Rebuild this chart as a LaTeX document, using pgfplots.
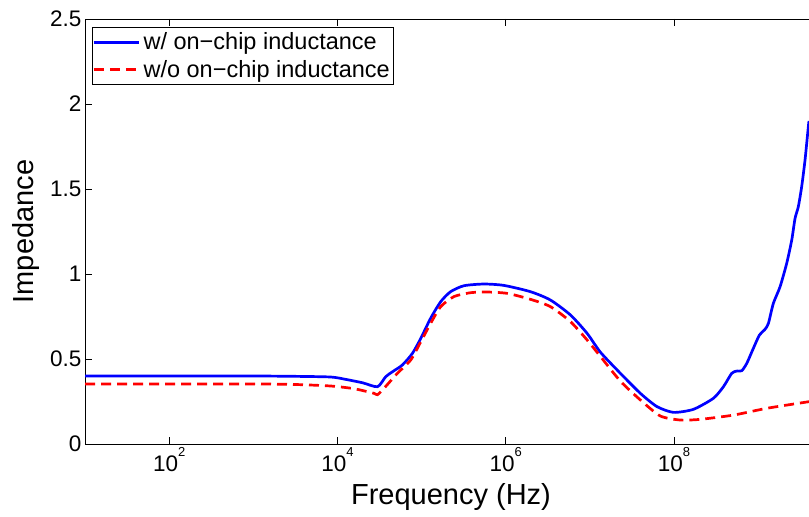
\documentclass[border=0pt]{standalone}
\usepackage{fontspec}
\setmainfont{Liberation Sans}
\usepackage{pgfplots}
\pgfplotsset{compat=1.18}
\newcommand{\tp}[1]{10\raisebox{15pt}{\fontsize{13}{13}\selectfont #1}}
\begin{document}
\begin{tikzpicture}
\begin{axis}[
  scale only axis,
  width=724pt, height=425pt,
  xmode=log,
  xmin=10, xmax=4.018e9,
  ymin=0, ymax=2.5,
  axis x line*=box,
  axis y line*=left,
  axis line style={line width=0.8pt},
  tick align=inside,
  major tick length=7pt,
  tick style={black, line width=0.6pt},
  xtick={1e2,1e4,1e6,1e8},
  xticklabels={\tp{2},\tp{4},\tp{6},\tp{8}},
  minor xtick={},
  ytick={0,0.5,1,1.5,2,2.5},
  yticklabels={0,0.5,1,1.5,2,2.5},
  ticklabel style={font=\fontsize{22.5}{26}\selectfont},
  xlabel={Frequency (Hz)},
  ylabel={Impedance},
  label style={font=\fontsize{29}{34}\selectfont},
  x label style={at={([yshift=-60pt]axis description cs:0.5055,0)}, anchor=base},
  y label style={at={([xshift=-52pt]axis description cs:0,0.5)}, anchor=base},
  legend style={at={([xshift=7pt,yshift=-8pt]axis description cs:0,1)}, anchor=north west,
    font=\fontsize{23.5}{27}\selectfont, draw=black, line width=0.8pt,
    inner xsep=0pt, inner ysep=1pt, row sep=0pt,
    nodes={inner xsep=3.5pt, inner ysep=4.5pt}},
  legend cell align=left,
  legend image code/.code={\draw[#1] (0pt,0pt) -- (45pt,0pt);},
]
\addplot[blue, line width=2.7pt, line join=round, smooth, tension=0.4] coordinates {
(10,0.400) (100,0.400) (1000,0.400) (3162,0.398) (8356,0.394)
(1.259e4,0.38) (1.995e4,0.36) (2.992e4,0.337) (3.750e4,0.396) (4.508e4,0.425)
(5.916e4,0.465) (7.780e4,0.533) (9.750e4,0.62) (1.282e5,0.74) (1.687e5,0.837)
(2.213e5,0.896) (3.184e5,0.931) (5.495e5,0.941) (9.484e5,0.933) (1.968e6,0.896)
(3.396e6,0.847) (5.875e6,0.759) (9.268e6,0.651) (1.334e7,0.54) (2.301e7,0.416)
(3.981e7,0.298) (6.266e7,0.22) (9.863e7,0.186) (1.702e8,0.204) (2.938e8,0.269)
(3.864e8,0.337) (4.853e8,0.416) (5.572e8,0.429) (6.383e8,0.431) (7.328e8,0.475)
(8.770e8,0.563) (1.035e9,0.641) (1.208e9,0.675) (1.324e9,0.71) (1.514e9,0.827)
(1.820e9,0.925) (2.183e9,1.063) (2.506e9,1.2) (2.742e9,1.327) (3.000e9,1.396)
(3.289e9,1.514) (3.606e9,1.671) (3.945e9,1.866) (4.018e9,1.9)
};
\addlegendentry{w/ on−chip inductance}
\addplot[red, line width=2.7pt, dash pattern=on 10pt off 6pt, smooth, tension=0.4] coordinates {
(10,0.353) (1000,0.353) (3162,0.350) (8356,0.341) (1.585e4,0.325)
(2.723e4,0.298) (2.992e4,0.29) (3.581e4,0.328) (5.164e4,0.416) (7.430e4,0.494)
(9.750e4,0.60) (1.282e5,0.71) (1.687e5,0.808) (2.421e5,0.867) (3.819e5,0.89)
(6.039e5,0.894) (1.042e6,0.886) (1.968e6,0.851) (3.396e6,0.808) (5.875e6,0.72)
(9.268e6,0.612) (1.334e7,0.515) (2.301e7,0.37) (3.981e7,0.259) (6.855e7,0.165)
(1.183e8,0.141) (2.046e8,0.145) (5.082e8,0.17) (1.265e9,0.21) (4.018e9,0.249)
};
\addlegendentry{w/o on−chip inductance}
\end{axis}
\pgfresetboundingbox
\useasboundingbox ([xshift=-85pt,yshift=-73pt]current axis.south west) rectangle ([yshift=19pt]current axis.north east);
\end{tikzpicture}
\end{document}
